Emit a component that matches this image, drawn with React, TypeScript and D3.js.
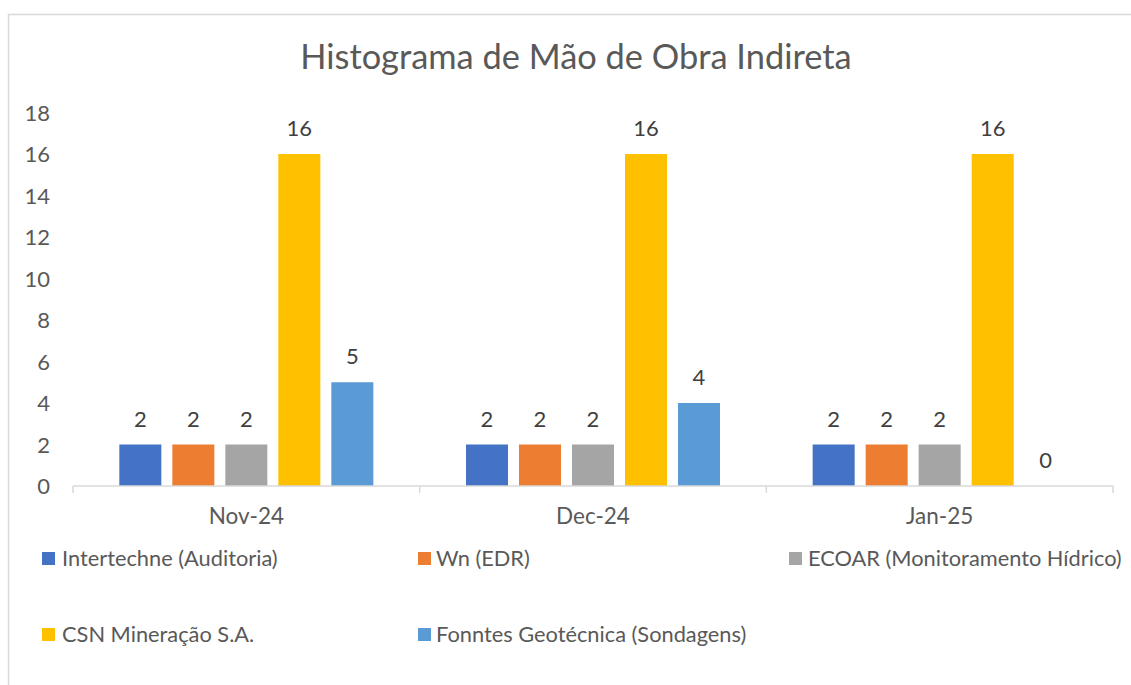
import React from "react";
import * as d3 from "d3";

const categories = ["Nov-24", "Dec-24", "Jan-25"];
const seriesNames = [
  "Intertechne (Auditoria)",
  "Wn (EDR)",
  "ECOAR (Monitoramento Hídrico)",
  "CSN Mineração S.A.",
  "Fonntes Geotécnica (Sondagens)",
];
const intertechne = [2, 2, 2];
const wn = [2, 2, 2];
const ecoar = [2, 2, 2];
const csn = [16, 16, 16];
const fonntes = [5, 4, 0];
const yTicks = [0, 2, 4, 6, 8, 10, 12, 14, 16, 18];
const title = "Histograma de Mão de Obra Indireta";

const colors = ["#4472C4", "#ED7D31", "#A5A5A5", "#FFC000", "#5B9BD5"];
const seriesValues = [intertechne, wn, ecoar, csn, fonntes];

const W = 1131;
const H = 685;
const FONT = "Lato, 'Open Sans', sans-serif";
const TXT = "#595959";
const LBL = "#404040";

export default function App() {
  const x = d3.scaleBand<string>().domain(categories).range([73, 1113]).padding(0);
  const inner = d3
    .scaleBand<number>()
    .domain(d3.range(seriesNames.length))
    .range([0, x.bandwidth()])
    .paddingInner(0.2075)
    .paddingOuter(0.874);
  const y = d3.scaleLinear().domain([0, 18]).range([486, 112.5]);

  const legendPos = [
    { sx: 42, tx: 62, row: 0 },
    { sx: 418, tx: 436, row: 0 },
    { sx: 789, tx: 808, row: 0 },
    { sx: 42, tx: 62, row: 1 },
    { sx: 418, tx: 436, row: 1 },
  ];
  const rowY = [558.5, 634.5];

  const catTicks = [...categories.map((c) => x(c)!), 1113];

  return (
    <svg
      width={W}
      height={H}
      style={{ position: "absolute", left: 0, top: 0, background: "#fff" }}
      fontFamily={FONT}
    >
      <rect x={8.5} y={14.5} width={1140} height={700} fill="#fff" stroke="#d9d9d9" strokeWidth={1.5} />
      <text x={576} y={69} textAnchor="middle" fontSize={34.4} fill={TXT}>
        {title}
      </text>
      {yTicks.map((t) => (
        <text key={t} x={50} y={y(t) + 8} textAnchor="end" fontSize={22} fill={TXT}>
          {t}
        </text>
      ))}
      {categories.map((c, ci) => (
        <g key={c}>
          {seriesValues.map((vals, si) => {
            const bx = x(c)! + inner(si)!;
            const v = vals[ci];
            return (
              <g key={si}>
                {v > 0 && (
                  <rect x={bx} y={y(v)} width={inner.bandwidth()} height={y(0) - y(v)} fill={colors[si]} />
                )}
                <text
                  x={bx + inner.bandwidth() / 2}
                  y={y(v) - 18}
                  textAnchor="middle"
                  fontSize={22}
                  fill={LBL}
                >
                  {v}
                </text>
              </g>
            );
          })}
          <text x={x(c)! + x.bandwidth() / 2} y={524} textAnchor="middle" fontSize={22.5} fill={TXT}>
            {c}
          </text>
        </g>
      ))}
      <line x1={73} x2={1113} y1={486} y2={486} stroke="#d9d9d9" strokeWidth={1.5} />
      {catTicks.map((tx, i) => (
        <line key={i} x1={tx} x2={tx} y1={486} y2={493} stroke="#d9d9d9" strokeWidth={1.5} />
      ))}
      {seriesNames.map((n, i) => {
        const p = legendPos[i];
        const cy = rowY[p.row];
        return (
          <g key={n}>
            <rect x={p.sx} y={cy - 6.5} width={13} height={13} fill={colors[i]} />
            <text x={p.tx} y={cy + 7.5} fontSize={21.8} fill={TXT}>
              {n}
            </text>
          </g>
        );
      })}
    </svg>
  );
}
